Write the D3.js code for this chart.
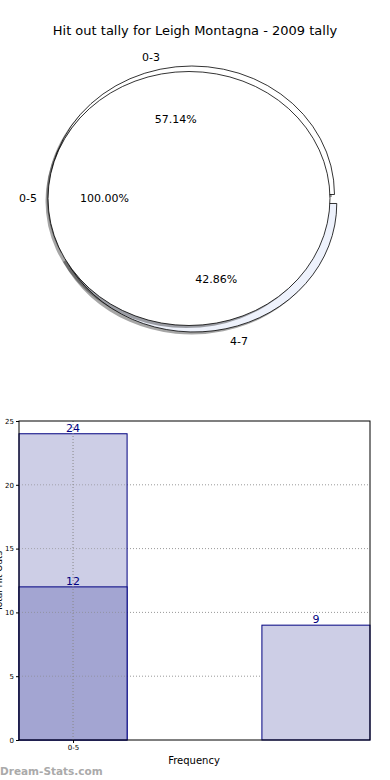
<!DOCTYPE html>
<html><head><meta charset="utf-8">
<script src="https://cdn.jsdelivr.net/npm/d3@7"></script>
<style>body{margin:0;background:#fff}svg{display:block;font-family:"DejaVu Sans",sans-serif}</style>
</head><body>
<svg id="c" width="390" height="780"></svg>
<script>
// ---- data ----
const title = "Hit out tally for Leigh Montagna - 2009 tally";
const outerLabels = ["0-3", "4-7"];
const outerValues = [12, 9];
const innerLabels = ["0-5"];
const innerValues = [21];
const barPositions = [0, 1];
const lightValues = [24, 9];
const darkPositions = [0];
const darkValues = [12];
const xTickPositions = [0];
const xTickLabels = ["0-5"];
const yTicks = [0, 5, 10, 15, 20, 25];

const svg = d3.select("#c");
svg.append("text").attr("x", 195).attr("y", 35).attr("text-anchor", "middle")
  .attr("font-size", 13).text(title);

// ---- pie ----
const kx = 1.11;
const cxo = 193, cyo = 199, rOut = 128.5, explode = 4.6;
const cxi = 189, cyi = 198.5, rIn = 127;
const pie = d3.pie().sort(null).startAngle(Math.PI/2).endAngle(Math.PI/2 - 2*Math.PI);
const arcOut = d3.arc().innerRadius(0).outerRadius(rOut);
const arcIn = d3.arc().innerRadius(0).outerRadius(rIn);
const outerArcs = pie(outerValues);
const innerArcs = pie(innerValues);
function off(d){ const m=(d.startAngle+d.endAngle)/2; return [Math.sin(m)*explode, -Math.cos(m)*explode]; }
const gO = svg.append("g").attr("transform", `translate(${cxo},${cyo}) scale(${kx},1)`);
const gI = svg.append("g").attr("transform", `translate(${cxi},${cyi}) scale(${kx},1)`);
gO.selectAll(".so").data(outerArcs).join("path")
  .attr("d", arcOut).attr("fill", "#000").attr("opacity", 0.35)
  .attr("transform", d => { const o=off(d); return `translate(${o[0]-2.3},${o[1]+2.6})`; });
const outerFill = ["#ffffff", "#eef2fc"];
gO.selectAll(".po").data(outerArcs).join("path")
  .attr("d", arcOut).attr("fill", (d,i) => outerFill[i]).attr("stroke", "#000")
  .attr("stroke-width", 0.8).attr("vector-effect", "non-scaling-stroke")
  .attr("transform", d => { const o=off(d); return `translate(${o[0]},${o[1]})`; });
gI.selectAll(".si").data(innerArcs).join("path")
  .attr("d", arcIn).attr("fill", "#000").attr("opacity", 0.35)
  .attr("transform", "translate(-2.3,2.6)");
gI.selectAll(".pi").data(innerArcs).join("path")
  .attr("d", arcIn).attr("fill", "#fff").attr("stroke", "#000")
  .attr("stroke-width", 0.8).attr("vector-effect", "non-scaling-stroke");

const total = d3.sum(outerValues);
function pos(cx, cy, d, r, e){ const m=(d.startAngle+d.endAngle)/2; return [cx + Math.sin(m)*(r+e)*kx, cy - Math.cos(m)*(r+e), Math.sin(m)]; }
outerArcs.forEach((d,i) => {
  const p = pos(cxo, cyo, d, rOut*1.1, explode), q = pos(cxo, cyo, d, rOut*0.6, explode);
  svg.append("text").attr("x", p[0] + (p[2] > 0 ? 1 : 3)).attr("y", p[1]).attr("text-anchor", p[2] > 0 ? "start" : "end").attr("dy","0.35em")
    .attr("font-size", 11).text(outerLabels[i]);
  svg.append("text").attr("x", q[0] + 3).attr("y", q[1]).attr("text-anchor","middle").attr("dy","0.35em")
    .attr("font-size", 11).text((outerValues[i]/total*100).toFixed(2) + "%");
});
innerArcs.forEach((d,i) => {
  const v = d3.sum(innerValues);
  svg.append("text").attr("x", cxi - rIn*kx*1.1 + 3).attr("y", cyi).attr("text-anchor","end").attr("dy","0.35em")
    .attr("font-size", 11).text(innerLabels[i]);
  svg.append("text").attr("x", cxi - rIn*kx*0.6).attr("y", cyi).attr("text-anchor","middle").attr("dy","0.35em")
    .attr("font-size", 11).text((innerValues[i]/v*100).toFixed(2) + "%");
});

// ---- bars ----
const L = 19, R = 370, T = 421, B = 740;
const bw = 0.445;
const x = d3.scaleLinear().domain([-bw/2, 1 + bw/2]).range([L, R]);
const y = d3.scaleLinear().domain([0, 25]).range([B, T]);
const g = svg.append("g");
g.selectAll(".gy").data(yTicks.slice(1, -1)).join("line")
  .attr("x1", L).attr("x2", R).attr("y1", d=>y(d)).attr("y2", d=>y(d))
  .attr("stroke", "#999").attr("stroke-dasharray", "1,2").attr("stroke-width", 1);
const barsL = barPositions.map((p,i)=>({p, v: lightValues[i]}));
g.selectAll(".bl").data(barsL).join("rect")
  .attr("x", d=>x(d.p-bw/2)).attr("width", d=>x(d.p+bw/2)-x(d.p-bw/2))
  .attr("y", d=>y(d.v)).attr("height", d=>B-y(d.v))
  .attr("fill", "#cdcee6").attr("stroke", "#000080").attr("stroke-width", 1);
const barsD = darkPositions.map((p,i)=>({p, v: darkValues[i]}));
g.selectAll(".bd").data(barsD).join("rect")
  .attr("x", d=>x(d.p-bw/2)).attr("width", d=>x(d.p+bw/2)-x(d.p-bw/2))
  .attr("y", d=>y(d.v)).attr("height", d=>B-y(d.v))
  .attr("fill", "#a3a5d2").attr("stroke", "#000080").attr("stroke-width", 1);
g.selectAll(".gx").data(xTickPositions).join("line")
  .attr("x1", d=>x(d)).attr("x2", d=>x(d)).attr("y1", T).attr("y2", B)
  .attr("stroke", "#888").attr("stroke-dasharray", "1,2").attr("stroke-width", 1);
g.selectAll(".gy2").data(yTicks.slice(1, -1)).join("line")
  .attr("x1", L).attr("x2", x(bw/2)).attr("y1", d=>y(d)).attr("y2", d=>y(d))
  .attr("stroke", "#888").attr("stroke-dasharray", "1,2").attr("stroke-width", 1).attr("opacity",0.6);
[...barsL, ...barsD].forEach(d => {
  g.append("text").attr("x", x(d.p)).attr("y", y(d.v) - 2).attr("text-anchor","middle")
    .attr("font-size", 11).attr("fill", "#000080").text(d.v);
});
g.append("rect").attr("x", L).attr("y", T).attr("width", R-L).attr("height", B-T)
  .attr("fill", "none").attr("stroke", "#000").attr("stroke-width", 1);
const ya = svg.append("g").attr("transform", `translate(${L},0)`)
  .call(d3.axisLeft(y).tickValues(yTicks).tickSize(3).tickPadding(2));
ya.select(".domain").remove();
ya.selectAll("text").attr("font-size", 7).attr("font-family", "DejaVu Sans");
const xa = svg.append("g").attr("transform", `translate(0,${B})`)
  .call(d3.axisBottom(x).tickValues(xTickPositions).tickFormat((d,i)=>xTickLabels[i]).tickSize(3).tickPadding(2));
xa.select(".domain").remove();
xa.selectAll("text").attr("font-size", 7).attr("font-family", "DejaVu Sans");

svg.append("text").attr("x", 194).attr("y", 764).attr("text-anchor","middle").attr("font-size", 10).text("Frequency");
svg.append("text").attr("transform", "translate(1.5,581) rotate(-90)").attr("text-anchor","middle")
  .attr("font-size", 9).text("Total Hit Outs");
svg.append("text").attr("x", 0).attr("y", 775).attr("font-size", 10.5).attr("font-weight", "bold")
  .attr("fill", "#aaa").text("Dream-Stats.com");
</script>
</body></html>
